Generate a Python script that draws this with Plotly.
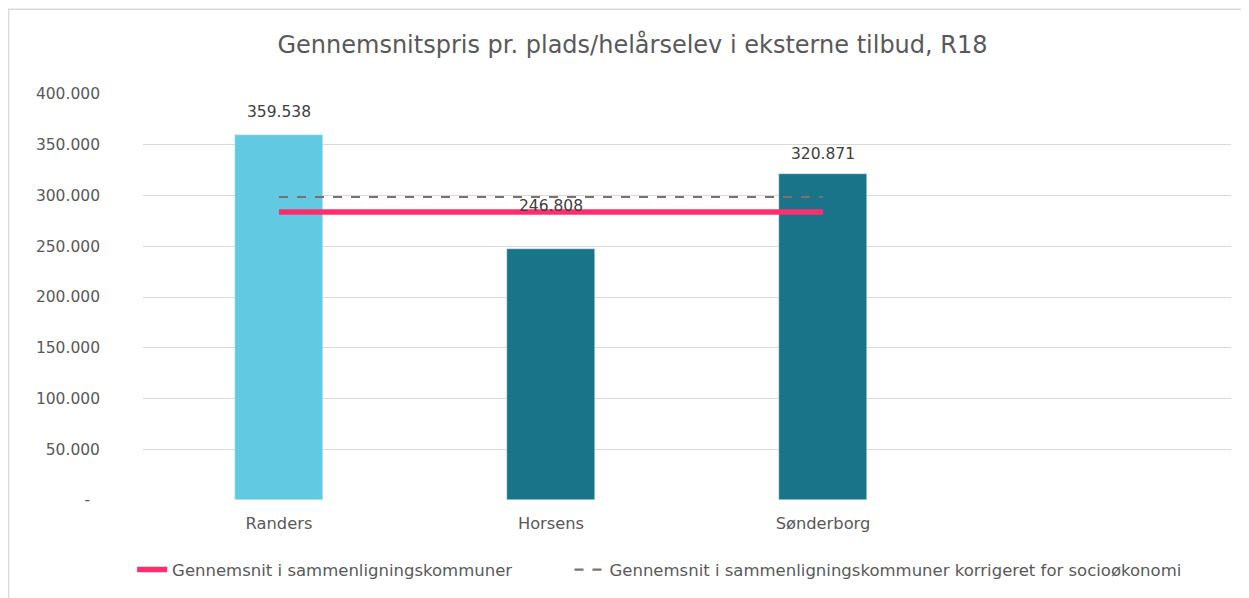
import plotly.graph_objects as go

categories = ["Randers", "Horsens", "Sønderborg"]
values = [359538, 246808, 320871]
bar_colors = ["#62C9E3", "#1A7489", "#1A7489"]
label_texts = ["359.538", "246.808", "320.871"]
avg_value = 283700
avg_corrected_value = 298500
avg_name = "Gennemsnit i sammenligningskommuner"
avg_corr_name = "Gennemsnit i sammenligningskommuner korrigeret for socioøkonomi"
y_tickvals = [0, 50000, 100000, 150000, 200000, 250000, 300000, 350000, 400000]
y_ticktext = ["-\u2007", "50.000", "100.000", "150.000", "200.000", "250.000", "300.000", "350.000", "400.000"]
title = "Gennemsnitspris pr. plads/helårselev i eksterne tilbud, R18"

label_yshift = [23, 43, 20]
font = "DejaVu Sans"
txt = "#595959"

xpos = list(range(len(categories)))

fig = go.Figure()
fig.add_trace(go.Bar(
    x=xpos, y=values, marker_color=bar_colors, width=0.32,
    showlegend=False, hoverinfo="skip",
))
fig.add_trace(go.Scatter(
    x=[xpos[0], xpos[-1]], y=[avg_value, avg_value], mode="lines",
    line=dict(color="#FF2D6E", width=5.5), name=avg_name, legend="legend",
))
fig.add_trace(go.Scatter(
    x=[xpos[0], xpos[-1]], y=[avg_corrected_value, avg_corrected_value], mode="lines",
    line=dict(color="#7F6F68", width=2.2, dash="dash"), name=avg_corr_name,
    legend="legend2",
))
for xi, v, t, ys in zip(xpos, values, label_texts, label_yshift):
    fig.add_annotation(x=xi, y=v, text=t, showarrow=False, yshift=ys,
                       yanchor="middle",
                       font=dict(family=font, size=15.5, color="#404040"))

fig.add_shape(type="rect", xref="paper", yref="paper",
              x0=-0.1236, y0=-0.3, x1=1.2, y1=1.209,
              line=dict(color="#D9D9D9", width=1.5), fillcolor="rgba(0,0,0,0)")

legend_common = dict(orientation="h", yanchor="middle", xanchor="left",
                     bgcolor="rgba(0,0,0,0)",
                     font=dict(family=font, size=16.5, color=txt))

fig.update_layout(
    width=1249, height=598,
    margin=dict(l=135, r=26, t=86, b=106, autoexpand=False),
    paper_bgcolor="white", plot_bgcolor="white",
    title=dict(text=title, x=0.5, xanchor="center", y=0.938, yanchor="middle",
               font=dict(family=font, size=24, color=txt)),
    font=dict(family=font, size=16, color=txt),
    xaxis=dict(range=[-0.5, 3.5], tickvals=xpos, ticktext=categories,
               showgrid=False, zeroline=False, showline=False, ticks="",
               ticklabelstandoff=12,
               tickfont=dict(family=font, size=16.3, color=txt)),
    yaxis=dict(range=[0, 400000], tickvals=y_tickvals, ticktext=y_ticktext,
               showgrid=True, gridcolor="#D9D9D9", gridwidth=1.3, zeroline=False,
               showline=False, ticks="", ticklabelstandoff=42,
               tickfont=dict(family=font, size=15.5, color=txt)),
    legend=dict(x=-0.010, y=-0.172, **legend_common),
    legend2=dict(x=0.392, y=-0.172, **legend_common),
    bargap=0,
)
fig.write_html("out.html")
